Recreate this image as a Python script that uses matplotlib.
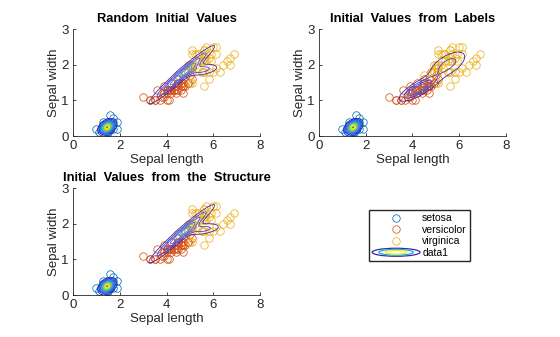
import numpy as np
import matplotlib
matplotlib.use("Agg")
import matplotlib.pyplot as plt
from matplotlib.colors import LinearSegmentedColormap
from matplotlib.legend_handler import HandlerBase
from matplotlib.lines import Line2D
from matplotlib.patches import Ellipse

plt.rcParams['font.family'] = ['Liberation Sans', 'DejaVu Sans']

# Fisher iris, petal length / petal width (plotted as in the reference)
setosa_x = [1.4, 1.4, 1.3, 1.5, 1.4, 1.7, 1.4, 1.5, 1.4, 1.5, 1.5, 1.6, 1.4, 1.1, 1.2,
            1.5, 1.3, 1.4, 1.7, 1.5, 1.7, 1.5, 1.0, 1.7, 1.9, 1.6, 1.6, 1.5, 1.4, 1.6,
            1.6, 1.5, 1.5, 1.4, 1.5, 1.2, 1.3, 1.4, 1.3, 1.5, 1.3, 1.3, 1.3, 1.6, 1.9,
            1.4, 1.6, 1.4, 1.5, 1.4]
setosa_y = [0.2, 0.2, 0.2, 0.2, 0.2, 0.4, 0.3, 0.2, 0.2, 0.1, 0.2, 0.2, 0.1, 0.1, 0.2,
            0.4, 0.4, 0.3, 0.3, 0.3, 0.2, 0.4, 0.2, 0.5, 0.2, 0.2, 0.4, 0.2, 0.2, 0.2,
            0.2, 0.4, 0.1, 0.2, 0.2, 0.2, 0.2, 0.1, 0.2, 0.2, 0.3, 0.3, 0.2, 0.6, 0.4,
            0.3, 0.2, 0.2, 0.2, 0.2]
versicolor_x = [4.7, 4.5, 4.9, 4.0, 4.6, 4.5, 4.7, 3.3, 4.6, 3.9, 3.5, 4.2, 4.0, 4.7, 3.6,
                4.4, 4.5, 4.1, 4.5, 3.9, 4.8, 4.0, 4.9, 4.7, 4.3, 4.4, 4.8, 5.0, 4.5, 3.5,
                3.8, 3.7, 3.9, 5.1, 4.5, 4.5, 4.7, 4.4, 4.1, 4.0, 4.4, 4.6, 4.0, 3.3, 4.2,
                4.2, 4.2, 4.3, 3.0, 4.1]
versicolor_y = [1.4, 1.5, 1.5, 1.3, 1.5, 1.3, 1.6, 1.0, 1.3, 1.4, 1.0, 1.5, 1.0, 1.4, 1.3,
                1.4, 1.5, 1.0, 1.5, 1.1, 1.8, 1.3, 1.5, 1.2, 1.3, 1.4, 1.4, 1.7, 1.5, 1.0,
                1.1, 1.0, 1.2, 1.6, 1.5, 1.6, 1.5, 1.3, 1.3, 1.3, 1.2, 1.4, 1.2, 1.0, 1.3,
                1.2, 1.3, 1.3, 1.1, 1.3]
virginica_x = [6.0, 5.1, 5.9, 5.6, 5.8, 6.6, 4.5, 6.3, 5.8, 6.1, 5.1, 5.3, 5.5, 5.0, 5.1,
               5.3, 5.5, 6.7, 6.9, 5.0, 5.7, 4.9, 6.7, 4.9, 5.7, 6.0, 4.8, 4.9, 5.6, 5.8,
               6.1, 6.4, 5.6, 5.1, 5.6, 6.1, 5.6, 5.5, 4.8, 5.4, 5.6, 5.1, 5.1, 5.9, 5.7,
               5.2, 5.0, 5.2, 5.4, 5.1]
virginica_y = [2.5, 1.9, 2.1, 1.8, 2.2, 2.1, 1.7, 1.8, 1.8, 2.5, 2.0, 1.9, 2.1, 2.0, 2.4,
               2.3, 1.8, 2.2, 2.3, 1.5, 2.3, 2.0, 2.0, 1.8, 2.1, 1.8, 1.8, 1.8, 2.1, 1.6,
               1.9, 2.0, 2.2, 1.5, 1.4, 2.3, 2.4, 1.8, 1.8, 2.1, 2.4, 2.3, 1.9, 2.3, 2.5,
               2.3, 1.9, 2.0, 2.3, 1.8]
species = ['setosa', 'versicolor', 'virginica']

titles = ['Random  Initial  Values', 'Initial  Values  from  Labels',
          'Initial  Values  from  the  Structure']

# fitted mixture components per panel
mu_random = [[1.462, 0.246], [4.65, 1.72], [5.50, 1.86]]
sigma_random = [[[0.0300, 0.0060], [0.0060, 0.0110]],
                [[0.62, 0.35], [0.35, 0.21]],
                [[0.22, 0.020], [0.020, 0.012]]]
w_random = [0.333, 0.52, 0.147]

mu_labels = [[1.462, 0.246], [4.26, 1.326], [5.50, 2.00]]
sigma_labels = [[[0.0302, 0.0061], [0.0061, 0.0111]],
                [[0.2208, 0.0731], [0.0731, 0.0391]],
                [[0.30, 0.090], [0.090, 0.070]]]
w_labels = [0.333, 0.333, 0.334]

mu_struct = [[1.462, 0.246], [4.65, 1.72], [5.55, 1.85]]
sigma_struct = [[[0.0300, 0.0060], [0.0060, 0.0110]],
                [[0.62, 0.35], [0.35, 0.21]],
                [[0.24, 0.022], [0.022, 0.012]]]
w_struct = [0.333, 0.52, 0.147]

fits = [(mu_random, sigma_random, w_random),
        (mu_labels, sigma_labels, w_labels),
        (mu_struct, sigma_struct, w_struct)]

parula = LinearSegmentedColormap.from_list('parula', [
    (0.2422, 0.1504, 0.6603), (0.2810, 0.3228, 0.9579), (0.1786, 0.5289, 0.9682),
    (0.0689, 0.6948, 0.8394), (0.2161, 0.7843, 0.5923), (0.6720, 0.7793, 0.2227),
    (0.9970, 0.7659, 0.2199), (0.9769, 0.9839, 0.0805)])
colors = [(0, 0.447, 0.741), (0.85, 0.325, 0.098), (0.929, 0.694, 0.125)]
dark = (0.15, 0.15, 0.15)


def gm_pdf(xx, yy, mu, sigma, w):
    z = np.zeros_like(xx)
    for m, s, p in zip(mu, sigma, w):
        s = np.array(s)
        inv = np.linalg.inv(s)
        dx = xx - m[0]
        dy = yy - m[1]
        q = inv[0, 0] * dx * dx + 2 * inv[0, 1] * dx * dy + inv[1, 1] * dy * dy
        z += p * np.exp(-0.5 * q) / (2 * np.pi * np.sqrt(np.linalg.det(s)))
    return z


class HandlerContour(HandlerBase):
    def create_artists(self, legend, orig_handle, xdescent, ydescent,
                       width, height, fontsize, trans):
        cx = width / 2 - xdescent
        cy = height / 2 - ydescent
        arts = []
        for f, c in [(1.0, 0.0), (0.72, 0.45), (0.45, 0.95)]:
            arts.append(Ellipse((cx, cy), width * f, height * 1.1 * f, fill=False,
                                edgecolor=parula(c), lw=0.9, transform=trans))
        return arts


fig = plt.figure(figsize=(5.6, 3.37), dpi=100)
positions = [[0.1304, 0.5964, 0.334, 0.3175],
             [0.5696, 0.5964, 0.334, 0.3175],
             [0.1304, 0.1246, 0.334, 0.3175]]
xs = [setosa_x, versicolor_x, virginica_x]
ys = [setosa_y, versicolor_y, virginica_y]

gx, gy = np.meshgrid(np.linspace(0, 8, 480), np.linspace(0, 3, 360))
handles = []
for pos, title, (mu, sigma, w) in zip(positions, titles, fits):
    ax = fig.add_axes(pos)
    handles = []
    for x, y, c, name in zip(xs, ys, colors, species):
        h, = ax.plot(x, y, 'o', mfc='none', mec=c, ms=5.4, mew=0.55, label=name)
        handles.append(h)
    z = gm_pdf(gx, gy, mu, sigma, w)
    step = z.max() / 16
    levels = np.arange(step, z.max(), step)
    ax.contour(gx, gy, z, levels=levels, cmap=parula, linewidths=0.6)
    ax.set_xlim(0, 8)
    ax.set_ylim(0, 3)
    ax.set_xticks([0, 2, 4, 6, 8])
    ax.set_yticks([0, 1, 2, 3])
    ax.spines['top'].set_visible(False)
    ax.spines['right'].set_visible(False)
    for sp in ['left', 'bottom']:
        ax.spines[sp].set_color(dark)
        ax.spines[sp].set_linewidth(0.6)
    ax.tick_params(direction='in', length=2.5, width=0.6, colors=dark, labelsize=9.5, pad=3)
    ax.set_xlabel('Sepal length', fontsize=9.5, color=dark, labelpad=1)
    ax.set_ylabel('Sepal width', fontsize=9.5, color=dark, labelpad=1)
    ax.set_title(title, fontsize=9.3, fontweight='bold', pad=5)

proxy = Line2D([], [], label='data1')
fig.legend(handles + [proxy], species + ['data1'], loc='center',
           bbox_to_anchor=(0.749, 0.301), fontsize=7.5, frameon=True, fancybox=False,
           edgecolor=dark, framealpha=1, handlelength=4.6, handletextpad=0.2,
           borderpad=0.3, labelspacing=0.15, borderaxespad=0,
           handler_map={proxy: HandlerContour()})

fig.savefig('out.png', dpi=100)
